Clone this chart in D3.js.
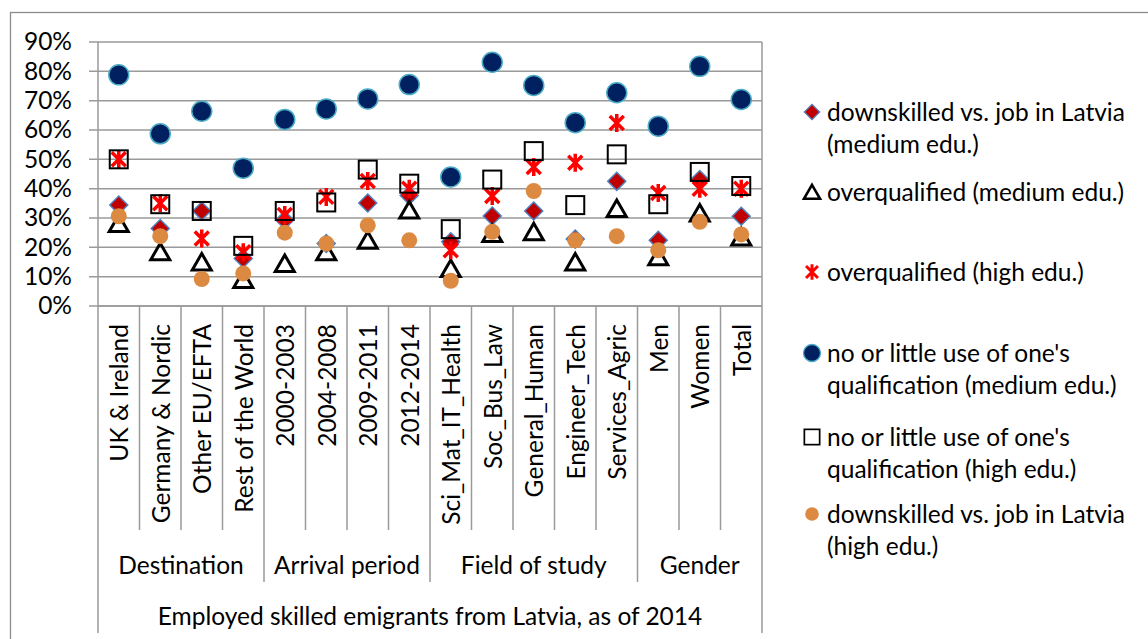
<!DOCTYPE html>
<html>
<head>
<meta charset="utf-8">
<script src="https://cdn.jsdelivr.net/npm/d3@7"></script>
<style>
  body { margin: 0; background: #fff; }
  svg text { font-family: Lato, "Open Sans", sans-serif; fill: #000; }
</style>
</head>
<body>
<div id="chart"></div>
<script>
// categories and groups
const categories = ['UK & Ireland', 'Germany & Nordic', 'Other EU/EFTA', 'Rest of the World',
    '2000-2003', '2004-2008', '2009-2011', '2012-2014',
    'Sci_Mat_IT_Health', 'Soc_Bus_Law', 'General_Human', 'Engineer_Tech', 'Services_Agric',
    'Men', 'Women', 'Total'];
const groups = [
    { name: 'Destination', size: 4 },
    { name: 'Arrival period', size: 4 },
    { name: 'Field of study', size: 5 },
    { name: 'Gender', size: 3 }
];
const axisTitle = 'Employed skilled emigrants from Latvia, as of 2014';

// series values (%)
const downskilledMedium = [34.4, 26.4, 32.4, 16.2, 29.3, 21.3, 35.1, 37.7, 21.9, 30.7, 32.4, 22.8, 42.5, 22.4, 43.1, 30.6];
const overqualMedium = [28.1, 18.5, 15.0, 9.0, 14.5, 18.5, 22.4, 32.7, 12.8, 24.7, 25.3, 15.0, 33.2, 16.8, 31.7, 23.5];
const overqualHigh = [50.0, 35.0, 23.0, 18.3, 31.0, 37.2, 42.6, 40.0, 19.0, 37.5, 47.4, 48.8, 62.4, 38.5, 40.0, 40.0];
const littleUseMedium = [78.8, 58.7, 66.4, 47.0, 63.6, 67.2, 70.6, 75.5, 44.0, 83.1, 75.2, 62.5, 72.7, 61.3, 81.7, 70.4];
const littleUseHigh = [50.0, 34.7, 32.4, 20.5, 32.4, 35.3, 46.5, 41.7, 26.2, 43.1, 52.8, 34.4, 51.7, 34.7, 45.7, 40.9];
const downskilledHigh = [30.6, 23.8, 9.2, 11.1, 25.0, 21.3, 27.5, 22.4, 8.6, 25.3, 39.2, 22.4, 23.8, 19.0, 28.7, 24.4];

const yTicks = [0, 10, 20, 30, 40, 50, 60, 70, 80, 90];

const seriesNames = [
    ['downskilled vs. job in Latvia', '(medium edu.)'],
    ['overqualified (medium edu.)'],
    ['overqualified (high edu.)'],
    ["no or little use of one's", 'qualification (medium edu.)'],
    ["no or little use of one's", 'qualification (high edu.)'],
    ['downskilled vs. job in Latvia', '(high edu.)']
];

const W = 1148, H = 639;
const plot = { left: 98, right: 762, top: 42, bottom: 306 };
const gridColor = '#9a9a9a';
const fontSize = '24.5px';

const svg = d3.select('#chart').append('svg')
    .attr('width', W).attr('height', H);

// outer frame (runs off the page right and bottom)
svg.append('rect')
    .attr('x', 10.5).attr('y', 12.5)
    .attr('width', 1300).attr('height', 800)
    .attr('fill', 'none').attr('stroke', '#8c8c8c').attr('stroke-width', 1.3);

const x = d3.scaleBand().domain(categories).range([plot.left, plot.right]);
const y = d3.scaleLinear().domain([0, 90]).range([plot.bottom, plot.top]);

// gridlines
svg.append('g').selectAll('line').data(yTicks).join('line')
    .attr('x1', plot.left - 9).attr('x2', plot.right)
    .attr('y1', d => y(d)).attr('y2', d => y(d))
    .attr('stroke', gridColor).attr('stroke-width', 1.5);

// y axis labels
const yAxis = d3.axisLeft(y).tickValues(yTicks).tickFormat(d => d + '%').tickSize(0).tickPadding(26);
const yg = svg.append('g').attr('transform', `translate(${plot.left},0)`).call(yAxis);
yg.select('.domain').remove();
yg.selectAll('text').style('font-size', fontSize).style('font-family', 'Lato, sans-serif').attr('fill', '#000');

// category axis lines
const axisG = svg.append('g').attr('stroke', gridColor).attr('stroke-width', 1.5);
axisG.append('line').attr('x1', plot.left).attr('x2', plot.right)
    .attr('y1', plot.bottom).attr('y2', plot.bottom);

// boundaries between categories
const groupStarts = [];
let acc = 0;
groups.forEach(g => { groupStarts.push(acc); acc += g.size; });
const boundaries = d3.range(categories.length + 1);
axisG.selectAll('line.tick').data(boundaries).join('line')
    .attr('class', 'tick')
    .attr('x1', i => plot.left + i * x.step())
    .attr('x2', i => plot.left + i * x.step())
    .attr('y1', i => (i === 0 || i === categories.length) ? plot.top : plot.bottom)
    .attr('y2', i => {
        if (i === 0 || i === categories.length) return 633;
        if (groupStarts.includes(i)) return 582;
        return 530;
    });

// category labels (rotated)
svg.append('g').selectAll('text').data(categories).join('text')
    .attr('transform', d => `translate(${x(d) + x.bandwidth() / 2 + 1},324) rotate(-90)`)
    .attr('text-anchor', 'end')
    .attr('dy', '0.35em')
    .style('font-size', fontSize)
    .text(d => d);

// group labels
svg.append('g').selectAll('text').data(groups).join('text')
    .attr('x', (g, i) => plot.left + (groupStarts[i] + g.size / 2) * x.step())
    .attr('y', 574)
    .attr('text-anchor', 'middle')
    .style('font-size', fontSize)
    .text(g => g.name);

svg.append('text')
    .attr('x', (plot.left + plot.right) / 2).attr('y', 625)
    .attr('text-anchor', 'middle')
    .style('font-size', fontSize)
    .text(axisTitle);

// marker drawers
const markers = [
    (g) => g.append('path').attr('d', 'M0,-9L9,0L0,9L-9,0Z')
        .attr('fill', '#C00000').attr('stroke', '#4F81BD').attr('stroke-width', 1.5),
    (g) => g.append('path').attr('d', 'M0,-8.5L9.5,8L-9.5,8Z')
        .attr('fill', 'none').attr('stroke', '#000').attr('stroke-width', 3)
        .attr('stroke-linejoin', 'miter'),
    (g) => g.append('path').attr('d', 'M0,-9V9M-7,-7L7,7M7,-7L-7,7')
        .attr('fill', 'none').attr('stroke', '#FF0000').attr('stroke-width', 3.5),
    (g) => g.append('circle').attr('r', 10)
        .attr('fill', '#002060').attr('stroke', '#4BACC6').attr('stroke-width', 1.5),
    (g) => g.append('rect').attr('x', -9).attr('y', -9).attr('width', 18).attr('height', 18)
        .attr('fill', 'none').attr('stroke', '#000').attr('stroke-width', 2),
    (g) => g.append('circle').attr('r', 8)
        .attr('fill', '#DC8A42')
];

const seriesData = [downskilledMedium, overqualMedium, overqualHigh, littleUseMedium, littleUseHigh, downskilledHigh];

seriesData.forEach((vals, s) => {
    const sg = svg.append('g');
    sg.selectAll('g').data(vals).join('g')
        .attr('transform', (v, i) => `translate(${x(categories[i]) + x.bandwidth() / 2},${y(v)})`)
        .each(function () { markers[s](d3.select(this)); });
});

// legend
const legendG = svg.append('g');
const legendTop = [112, 192, 272, 353, 437, 514];
seriesNames.forEach((lines, s) => {
    const row = legendG.append('g').attr('transform', `translate(0,${legendTop[s]})`);
    const m = row.append('g').attr('transform', 'translate(812,0) scale(0.85)');
    markers[s](m);
    lines.forEach((t, k) => {
        row.append('text').attr('x', 827).attr('y', k * 32)
            .attr('dy', '0.35em')
            .style('font-size', fontSize)
            .text(t);
    });
});
</script>
</body>
</html>
